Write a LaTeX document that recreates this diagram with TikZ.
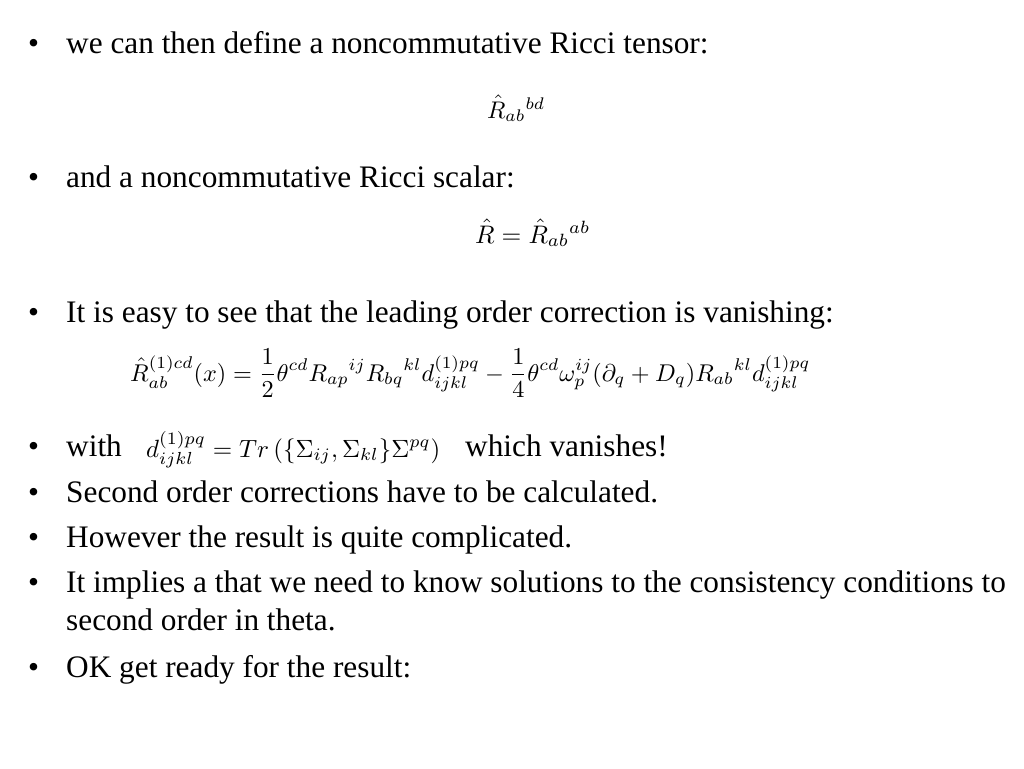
\documentclass[tikz,border=0pt]{standalone}
\usepackage[no-math]{fontspec}
\setmainfont{Liberation Serif}
\usepackage{amsmath}
\usepackage{graphicx}
\begin{document}
\begin{tikzpicture}[x=1pt,y=-1pt,
  txt/.style={anchor=base west, inner sep=0pt, font=\fontsize{31.3}{37}\selectfont},
  eq/.style={anchor=base west, inner sep=0pt}]
\useasboundingbox[fill=white] (0,0) rectangle (1024,768);
% bullets
\foreach \n/\y in {b1/53,b2/187,b3/322,b4/456,b5/502,b6/547,b7/592,b9/677}
  \node[txt] (\n) at (28,\y) {•};
\node[txt] (t1) at (66,53) {we can then define a noncommutative Ricci tensor:};
\node[eq] (e1) at (487,118) {\resizebox{58pt}{!}{$\hat{R}_{ab}{}^{bd}$}};
\node[txt] (t2) at (66,187) {and a noncommutative Ricci scalar:};
\node[eq] (e2) at (475,243) {\resizebox{115pt}{!}{$\hat{R}=\hat{R}_{ab}{}^{ab}$}};
\node[txt] (t3) at (66,322) {It is easy to see that the leading order correction is vanishing:};
\node[eq] (e3) at (130,381) {\resizebox{680pt}{!}{$\displaystyle \hat{R}^{(1)cd}_{ab}(x)=\frac{1}{2}\theta^{cd}R_{ap}{}^{ij}R_{bq}{}^{kl}d^{(1)pq}_{ijkl}-\frac{1}{4}\theta^{cd}\omega^{ij}_{p}(\partial_q+D_q)R_{ab}{}^{kl}d^{(1)pq}_{ijkl}$}};
\node[txt] (t4) at (66,456) {with};
\node[eq] (e4) at (146,457) {\resizebox{294pt}{!}{$d^{(1)pq}_{ijkl}=Tr\left(\{\Sigma_{ij},\Sigma_{kl}\}\Sigma^{pq}\right)$}};
\node[txt] (t4b) at (465,456) {which vanishes!};
\node[txt] (t5) at (66,502) {Second order corrections have to be calculated.};
\node[txt] (t6) at (66,547) {However the result is quite complicated.};
\node[txt] (t7) at (66,592) {It implies a that we need to know solutions to the consistency conditions to};
\node[txt] (t8) at (66,630) {second order in theta.};
\node[txt] (t9) at (66,677) {OK get ready for the result:};
\end{tikzpicture}
\end{document}
